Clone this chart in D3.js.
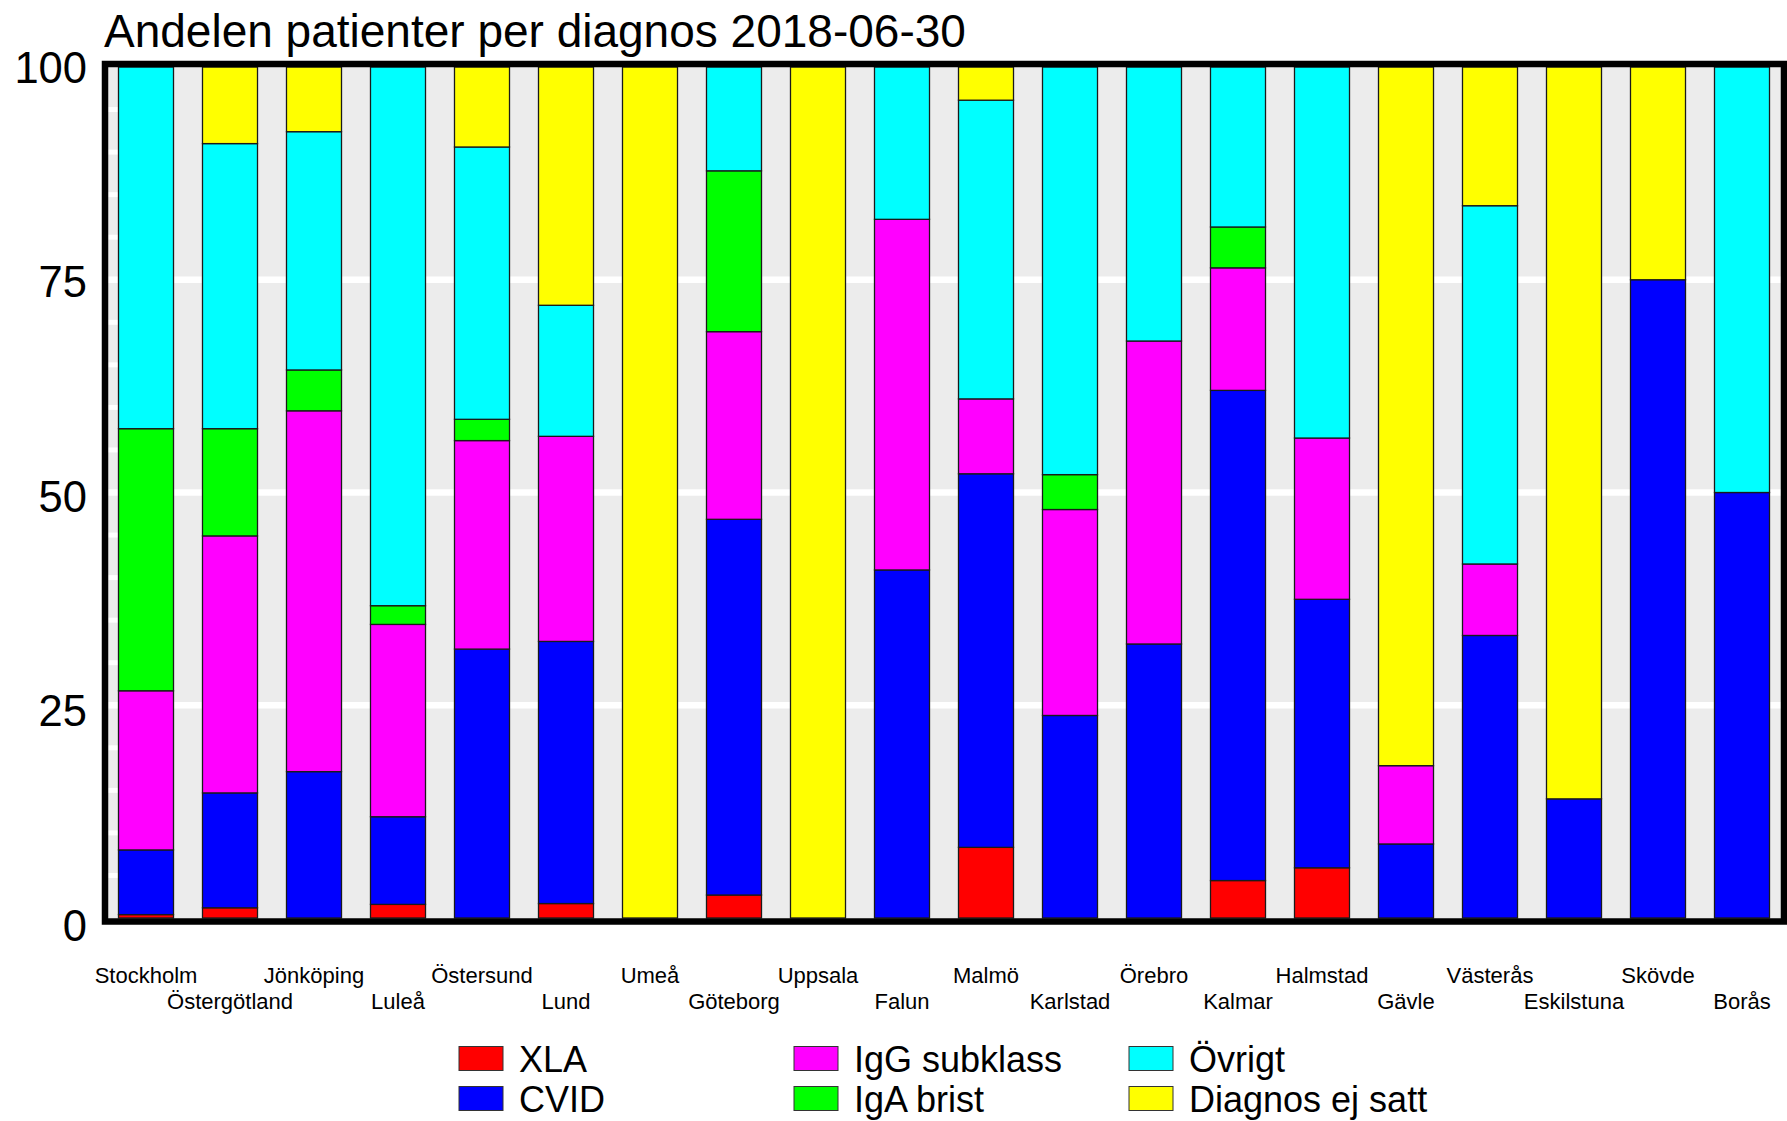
<!DOCTYPE html>
<html>
<head>
<meta charset="utf-8">
<script src="https://cdn.jsdelivr.net/npm/d3@7"></script>
<style>
  html, body { margin: 0; padding: 0; background: #fff; }
  svg { display: block; font-family: "Liberation Sans", Arial, Helvetica, sans-serif; }
</style>
</head>
<body>
<svg id="chart" width="1787" height="1121"></svg>
<script>
const title = "Andelen patienter per diagnos 2018-06-30";
const categories = ["Stockholm","Östergötland","Jönköping","Luleå","Östersund","Lund","Umeå","Göteborg","Uppsala","Falun","Malmö","Karlstad","Örebro","Kalmar","Halmstad","Gävle","Västerås","Eskilstuna","Skövde","Borås"];
const seriesNames = ["XLA","CVID","IgG subklass","IgA brist","Övrigt","Diagnos ej satt"];
const seriesColors = ["#ff0000","#0000ff","#ff00ff","#00ff00","#00ffff","#ffff00"];
const xla      = [0.4, 1.2, 0, 1.6, 0, 1.7, 0, 2.7, 0, 0, 8.3, 0, 0, 4.4, 5.9, 0, 0, 0, 0, 0];
const cvid     = [7.6, 13.5, 17.2, 10.3, 31.6, 30.8, 0, 44.15, 0, 40.9, 43.9, 23.8, 32.2, 57.6, 31.55, 8.7, 33.2, 14.0, 75.0, 50.0];
const iggSub   = [18.7, 30.2, 42.4, 22.6, 24.5, 24.1, 0, 22.05, 0, 41.2, 8.8, 24.2, 35.6, 14.4, 18.95, 9.2, 8.4, 0, 0, 0];
const igaBrist = [30.8, 12.6, 4.8, 2.2, 2.5, 0, 0, 18.9, 0, 0, 0, 4.1, 0, 4.8, 0, 0, 0, 0, 0, 0];
const ovrigt   = [42.5, 33.5, 28.0, 63.3, 32.0, 15.4, 0, 12.2, 0, 17.9, 35.1, 47.9, 32.2, 18.8, 43.6, 0, 42.1, 0, 0, 50.0];
const ejSatt   = [0, 9.0, 7.6, 0, 9.4, 28.0, 100, 0, 100, 0, 3.9, 0, 0, 0, 0, 82.1, 16.3, 86.0, 25.0, 0];
const yTicks = [0, 25, 50, 75, 100];
const yMinor = d3.range(5, 100, 5).filter(v => v % 25 !== 0);

const seriesValues = [xla, cvid, iggSub, igaBrist, ovrigt, ejSatt];
const table = categories.map((c, i) => {
  const row = { cat: c };
  seriesNames.forEach((s, j) => row[s] = seriesValues[j][i]);
  return row;
});

const svg = d3.select("#chart");
const plot = { left: 105, right: 1784, top: 67, bottom: 918 };

const x = d3.scaleBand().domain(categories).range([104, 1784])
  .paddingInner(0.345).paddingOuter(0.1725);
const y = d3.scaleLinear().domain([0, 100]).range([plot.bottom, plot.top]);
const yLab = d3.scaleLinear().domain([0, 100]).range([926, 67.5]);
const color = d3.scaleOrdinal().domain(seriesNames).range(seriesColors);

// background
svg.append("rect")
  .attr("x", plot.left).attr("y", plot.top - 3)
  .attr("width", plot.right - plot.left).attr("height", plot.bottom - plot.top + 6)
  .attr("fill", "#ececec");

// minor grid dashes (visible only in the first gap)
svg.append("g").selectAll("line").data(yMinor).join("line")
  .attr("x1", plot.left).attr("x2", x(categories[0]))
  .attr("y1", d => y(d)).attr("y2", d => y(d))
  .attr("stroke", "#fff").attr("stroke-width", 5);

// major grid
svg.append("g").selectAll("line").data(yTicks.filter(v => v > 0 && v < 100)).join("line")
  .attr("x1", plot.left).attr("x2", plot.right)
  .attr("y1", d => y(d)).attr("y2", d => y(d))
  .attr("stroke", "#fff").attr("stroke-width", 6.5);

// stacked bars
const stacked = d3.stack().keys(seriesNames)(table);
svg.append("g").selectAll("g").data(stacked).join("g")
  .attr("fill", d => color(d.key))
  .selectAll("rect").data(d => d.filter(p => p[1] - p[0] > 0)).join("rect")
  .attr("x", d => x(d.data.cat))
  .attr("width", x.bandwidth())
  .attr("y", d => y(d[1]))
  .attr("height", d => y(d[0]) - y(d[1]))
  .attr("stroke", "#1a1a1a").attr("stroke-width", 1.3);

// frame
svg.append("rect")
  .attr("x", plot.left).attr("y", plot.top - 3)
  .attr("width", plot.right - plot.left).attr("height", plot.bottom - plot.top + 6.5)
  .attr("fill", "none").attr("stroke", "#000").attr("stroke-width", 6.5);

// y tick labels
svg.append("g").selectAll("text").data(yTicks).join("text")
  .attr("x", 87).attr("y", d => yLab(d))
  .attr("text-anchor", "end").attr("dominant-baseline", "central")
  .attr("font-size", 43.5).attr("fill", "#000")
  .text(d => d);

// category labels (two alternating rows)
svg.append("g").selectAll("text").data(categories).join("text")
  .attr("x", d => x(d) + x.bandwidth() / 2)
  .attr("y", (d, i) => i % 2 === 0 ? 983 : 1009)
  .attr("text-anchor", "middle")
  .attr("font-size", 22).attr("fill", "#000")
  .text(d => d);

// title
svg.append("text")
  .attr("x", 104).attr("y", 47)
  .attr("font-size", 46).attr("fill", "#000")
  .text(title);

// legend (column-major, 3 columns x 2 rows)
const legendCols = [459, 794, 1129];
const legendRows = [1058.5, 1098.5];
const lg = svg.append("g").selectAll("g").data(seriesNames).join("g")
  .attr("transform", (d, i) => `translate(${legendCols[Math.floor(i / 2)]},${legendRows[i % 2]})`);
lg.append("rect")
  .attr("x", 0).attr("y", -12).attr("width", 44).attr("height", 24)
  .attr("fill", d => color(d)).attr("stroke", "#333").attr("stroke-width", 1);
lg.append("text")
  .attr("x", 60).attr("y", 13)
  .attr("font-size", 36).attr("fill", "#000")
  .text(d => d);
</script>
</body>
</html>
